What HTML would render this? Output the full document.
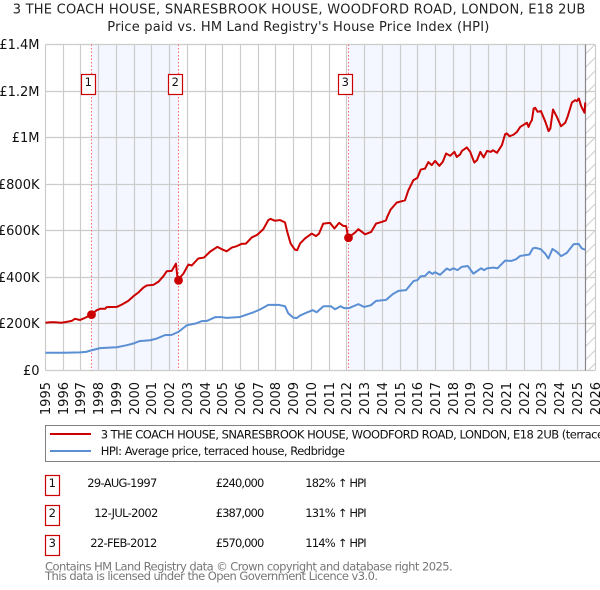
<!DOCTYPE html>
<html>
<head>
<meta charset="utf-8">
<title>House price chart</title>
<style>
html,body{margin:0;padding:0;background:#fff;width:600px;height:590px;overflow:hidden}
svg{display:block;font-family:"DejaVu Sans",sans-serif}
</style>
</head>
<body>
<svg id="chart" xmlns="http://www.w3.org/2000/svg" width="600" height="590" viewBox="0 0 600 590">
  <defs>
    <pattern id="hatch" patternUnits="userSpaceOnUse" x="585.5" y="44" width="10" height="13.3">
      <line x1="0" y1="10" x2="10" y2="0" stroke="#cccccc" stroke-width="1"/>
    </pattern>
  </defs>
  <rect x="0" y="0" width="600" height="590" fill="#fff"/>
  <text x="12.7" y="13.3" font-size="13" fill="#222" textLength="572.6" lengthAdjust="spacing">3 THE COACH HOUSE, SNARESBROOK HOUSE, WOODFORD ROAD, LONDON, E18 2UB</text>
  <text x="107.3" y="31" font-size="13" fill="#222" textLength="382" lengthAdjust="spacing">Price paid vs. HM Land Registry's House Price Index (HPI)</text>
  <g id="plot"></g>

  <rect x="45.5" y="425.5" width="600" height="36" fill="#fff" stroke="#808080" stroke-width="1"/>
  <line x1="50" y1="434" x2="91" y2="434" stroke="#cc0000" stroke-width="2"/>
  <text x="100.7" y="438.3" font-size="11.5" letter-spacing="-0.5" fill="#111">3 THE COACH HOUSE, SNARESBROOK HOUSE, WOODFORD ROAD, LONDON, E18 2UB (terraced house)</text>
  <line x1="50" y1="451" x2="91" y2="451" stroke="#5b8fd4" stroke-width="2"/>
  <text x="100.7" y="455" font-size="11.5" letter-spacing="-0.5" fill="#111">HPI: Average price, terraced house, Redbridge</text>

  <g font-size="11.5" fill="#111">
    <rect x="45.5" y="475.5" width="14" height="20" fill="#fff" stroke="#cc0000" stroke-width="1.2"/>
    <text x="52.3" y="487" text-anchor="middle">1</text>
    <text x="87.3" y="487" textLength="70">29-AUG-1997</text>
    <text x="215.7" y="487" textLength="48.6">£240,000</text>
    <text x="305.3" y="487" textLength="61.4">182% ↑ HPI</text>
  </g>
  <g font-size="11.5" fill="#111">
    <rect x="45.5" y="505.5" width="14" height="20" fill="#fff" stroke="#cc0000" stroke-width="1.2"/>
    <text x="52.3" y="517" text-anchor="middle">2</text>
    <text x="94.3" y="517" textLength="64">12-JUL-2002</text>
    <text x="215.7" y="517" textLength="48.6">£387,000</text>
    <text x="305.3" y="517" textLength="61.4">131% ↑ HPI</text>
  </g>
  <g font-size="11.5" fill="#111">
    <rect x="45.5" y="535.5" width="14" height="20" fill="#fff" stroke="#cc0000" stroke-width="1.2"/>
    <text x="52.3" y="547" text-anchor="middle">3</text>
    <text x="90.3" y="547" textLength="67">22-FEB-2012</text>
    <text x="215.7" y="547" textLength="48.6">£570,000</text>
    <text x="305.3" y="547" textLength="61.4">114% ↑ HPI</text>
  </g>
  <text x="45" y="570.5" font-size="11.5" fill="#777" textLength="407.7">Contains HM Land Registry data © Crown copyright and database right 2025.</text>
  <text x="45" y="580" font-size="11.5" fill="#777" textLength="333">This data is licensed under the Open Government Licence v3.0.</text>
</svg>
<script>
// ---- chart data ----
const tickYears = [1995,1996,1997,1998,1999,2000,2001,2002,2003,2004,2005,2006,2007,2008,2009,2010,2011,2012,2013,2014,2015,2016,2017,2018,2019,2020,2021,2022,2023,2024,2025,2026];
const yTickValues = [0,200,400,600,800,1000,1200,1400];
const yTickLabels = ['£0','£200K','£400K','£600K','£800K','£1M','£1.2M','£1.4M'];
const saleLabels = ['1','2','3'];
const saleTimes = [1997.583,2002.5,2012.083];
const salePrices = [240,387,570];
const dataEnd = 2025.47;
const priceTimes = [1995,1995.25,1995.54,1995.91,1996.19,1996.48,1996.66,1996.95,1997.23,1997.58,1997.89,1998.08,1998.36,1998.45,1999.02,1999.3,1999.67,1999.96,2000.24,2000.52,2000.71,2001.09,2001.37,2001.65,2001.84,2002.12,2002.36,2002.46,2002.78,2003.06,2003.25,2003.62,2003.94,2004.28,2004.7,2004.94,2005.22,2005.51,2005.79,2006.07,2006.31,2006.63,2006.95,2007.29,2007.57,2007.7,2007.95,2008.23,2008.51,2008.64,2008.83,2009.07,2009.2,2009.36,2009.64,2010.02,2010.26,2010.43,2010.67,2011.05,2011.3,2011.56,2011.8,2011.96,2012.08,2012.47,2012.65,2013.03,2013.37,2013.65,2013.97,2014.21,2014.28,2014.47,2014.81,2015.28,2015.47,2015.75,2015.98,2016.17,2016.41,2016.6,2016.79,2016.98,2017.22,2017.41,2017.6,2017.83,2018.07,2018.2,2018.39,2018.49,2018.77,2018.96,2019.19,2019.34,2019.53,2019.72,2019.91,2020.13,2020.24,2020.47,2020.75,2020.93,2021.03,2021.18,2021.41,2021.6,2021.78,2022.16,2022.25,2022.35,2022.44,2022.54,2022.63,2022.76,2022.95,2023.2,2023.38,2023.48,2023.63,2023.85,2024.08,2024.32,2024.45,2024.7,2024.88,2024.98,2025.09,2025.22,2025.41,2025.45];
const priceValues = [205,207,207,205,209,213,222,217,226,240,259,265,265,272,273,283,299,319,335,356,365,368,381,405,426,428,459,388,416,455,451,481,485,510,531,521,512,528,534,544,545,571,583,607,646,651,643,646,636,595,545,519,517,545,567,588,577,588,631,634,610,634,621,620,570,593,607,585,595,631,638,645,660,691,721,731,774,817,827,863,867,895,882,900,879,896,932,922,939,917,928,943,958,939,893,903,939,915,943,939,946,935,968,1015,1018,1006,1013,1025,1046,1064,1046,1064,1075,1125,1128,1111,1114,1068,1028,1039,1121,1089,1049,1064,1089,1151,1161,1157,1168,1135,1107,1151];
const hpiTimes = [1995,1996,1996.95,1997.29,1997.6,1998.08,1998.73,1999.02,1999.49,1999.96,2000.3,2000.9,2001.27,2001.74,2002.12,2002.5,2002.97,2003.53,2003.81,2004.1,2004.57,2004.94,2005.22,2005.97,2006.73,2007.1,2007.57,2008.14,2008.51,2008.7,2008.98,2009.17,2009.36,2009.74,2010.07,2010.3,2010.68,2011.09,2011.34,2011.65,2011.84,2012.13,2012.65,2012.97,2013.35,2013.65,2014.21,2014.59,2014.91,2015.34,2015.76,2015.98,2016.17,2016.41,2016.64,2016.83,2016.98,2017.26,2017.64,2017.82,2018.01,2018.24,2018.48,2018.82,2019.14,2019.57,2019.74,2019.93,2020.27,2020.5,2020.93,2021.3,2021.55,2021.78,2022.3,2022.49,2022.62,2022.94,2023.19,2023.37,2023.6,2023.84,2024.09,2024.41,2024.79,2025.07,2025.26,2025.44];
const hpiValues = [76,76,78,80,87,96,99,100,107,116,126,130,137,152,153,166,194,203,212,213,229,229,226,230,250,262,282,282,276,245,227,225,236,249,259,250,276,276,263,276,268,268,285,273,280,299,303,328,342,345,384,388,405,406,424,415,422,411,438,431,439,431,445,449,416,439,431,439,442,439,472,471,478,492,498,524,527,521,502,481,522,510,491,505,542,544,524,519];

// ---- axis functions ----
const plotLeft = 45.5, plotRight = 595, plotTop = 44.5, plotBottom = 370.5;
function xPos(t) { return plotLeft + (t - 1995) * (plotRight - plotLeft) / 31; }
function yPos(v) { return plotBottom - v * (plotBottom - plotTop) / 1400; }
function snap(p) { return Math.floor(p) + 0.5; }
function tickPos(year) {
  const days = (Date.UTC(year, 0, 1) - Date.UTC(1995, 0, 1)) / 86400000;
  const total = (Date.UTC(2026, 0, 1) - Date.UTC(1995, 0, 1)) / 86400000;
  return snap(plotLeft + days * (plotRight - plotLeft) / total);
}
const NS = 'http://www.w3.org/2000/svg';
const plot = document.getElementById('plot');
function make(tag, attrs, text) {
  const node = document.createElementNS(NS, tag);
  for (const k in attrs) node.setAttribute(k, attrs[k]);
  if (text !== undefined) node.textContent = text;
  plot.appendChild(node);
  return node;
}
let el;

// shaded ownership spans
el = make('rect', {x: xPos(saleTimes[0]), y: plotTop, width: xPos(saleTimes[1]) - xPos(saleTimes[0]), height: plotBottom - plotTop, fill: '#f4f7ff'});


el = make('rect', {x: xPos(saleTimes[2]), y: plotTop, width: xPos(dataEnd) - xPos(saleTimes[2]), height: plotBottom - plotTop, fill: '#f4f7ff'});



// hatched future region
el = make('rect', {x: xPos(dataEnd), y: plotTop, width: plotRight - xPos(dataEnd), height: plotBottom - plotTop, fill: 'url(#hatch)'});



// gridlines and tick labels
yTickValues.forEach(function (v, i) {
  const y = snap(yPos(v));
  let g = make('line', {x1: plotLeft, x2: plotRight, y1: y, y2: y, stroke: '#cccccc', 'stroke-width': 1.2});
  
  
  let t = make('text', {x: 39.5, y: y + 4.5, 'font-size': 13, 'text-anchor': 'end', fill: '#111'}, yTickLabels[i]);
  
  
});
tickYears.forEach(function (yr) {
  const x = tickPos(yr);
  let g = make('line', {x1: x, x2: x, y1: plotTop, y2: plotBottom, stroke: '#cccccc', 'stroke-width': 1.2});
  
  
  let t = make('text', {transform: 'translate(' + (x + 4.5) + ',382) rotate(-90)', 'font-size': 13, 'text-anchor': 'end', fill: '#111'}, String(yr));
  
  
});

// end-of-data line
el = make('line', {x1: snap(xPos(dataEnd)), x2: snap(xPos(dataEnd)), y1: plotTop, y2: plotBottom, stroke: '#888888', 'stroke-width': 1.2});



// sale date markers
saleTimes.forEach(function (t) {
  const x = snap(xPos(t));
  let l = make('line', {x1: x, x2: x, y1: plotTop, y2: plotBottom, stroke: '#ff6b6b', 'stroke-width': 1, 'stroke-dasharray': '1.5 2'});
  
  
});

// series
function pathOf(ts, vs) {
  return ts.map(function (t, i) { return (i ? 'L' : 'M') + xPos(t).toFixed(2) + ' ' + yPos(vs[i]).toFixed(2); }).join(' ');
}
el = make('path', {d: pathOf(hpiTimes, hpiValues), fill: 'none', stroke: '#5b8fd4', 'stroke-width': 2, 'stroke-linejoin': 'round'});


el = make('path', {d: pathOf(priceTimes, priceValues), fill: 'none', stroke: '#cc0000', 'stroke-width': 2, 'stroke-linejoin': 'round'});



// sale points and numbered badges
saleTimes.forEach(function (t, i) {
  const x = snap(xPos(t));
  let c = make('circle', {cx: x, cy: yPos(salePrices[i]), r: 4.4, fill: '#cc0000'});
  
  
  let b = make('rect', {x: x - 10, y: 74.5, width: 14, height: 20, fill: '#fff', stroke: '#cc0000', 'stroke-width': 1.2});
  
  
  let n = make('text', {x: x - 3.2, y: 86, 'font-size': 11.5, 'text-anchor': 'middle', fill: '#111'}, saleLabels[i]);
  
  
});
</script>
</body>
</html>
